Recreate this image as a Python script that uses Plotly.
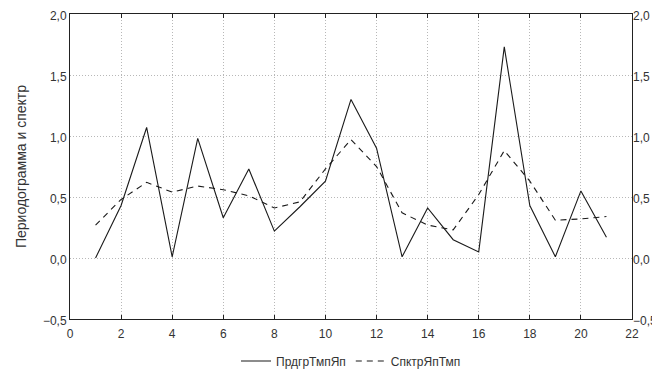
import plotly.graph_objects as go

x_vals = list(range(1, 22))
periodogram = [0.00, 0.43, 1.07, 0.01, 0.98, 0.33, 0.73, 0.22, 0.42, 0.63,
               1.30, 0.90, 0.01, 0.41, 0.15, 0.05, 1.73, 0.43, 0.01, 0.55, 0.17]
spectrum = [0.27, 0.48, 0.62, 0.54, 0.59, 0.56, 0.51, 0.41, 0.46, 0.73,
            0.97, 0.75, 0.37, 0.27, 0.23, 0.52, 0.88, 0.63, 0.31, 0.32, 0.34]
name_per = "ПрдгрТмпЯп"
name_spec = "СпктрЯпТмп"
y_title = "Периодограмма и спектр"
x_ticks = list(range(0, 23, 2))
y_ticks = [-0.5, 0.0, 0.5, 1.0, 1.5, 2.0]

fig = go.Figure()
fig.add_trace(go.Scatter(x=x_vals, y=periodogram, mode="lines", name=name_per,
                         line=dict(color="#1a1a1a", width=1.1)))
fig.add_trace(go.Scatter(x=x_vals, y=spectrum, mode="lines", name=name_spec,
                         line=dict(color="#1a1a1a", width=1.1, dash="6px,5px")))
fig.add_trace(go.Scatter(x=x_vals, y=spectrum, mode="lines", yaxis="y2",
                         showlegend=False, hoverinfo="skip",
                         line=dict(color="rgba(0,0,0,0)", width=0)))

# The page body has an 8px default margin, so the figure is sized to fit the window.
axis_font = dict(family="Liberation Sans, Arial, sans-serif", size=12, color="#333")
grid_color = "#b8b8b8"
grid_dash = "1px,2px"
fig.update_layout(
    width=652, height=362,
    margin=dict(l=62, r=28, t=6, b=51, autoexpand=False),
    paper_bgcolor="white", plot_bgcolor="white",
    separators=", ",
    font=dict(family="Liberation Sans, Arial, sans-serif", size=12, color="#333"),
    xaxis=dict(range=[-0.0001, 22.0001], tickvals=x_ticks, tickformat="d",
               showgrid=True, gridcolor=grid_color, griddash=grid_dash, gridwidth=1,
               showline=True, linecolor="#222", linewidth=1, mirror="ticks",
               ticks="inside", ticklen=4, tickcolor="#222", ticklabeloverflow="allow",
               ticklabelstandoff=4,
               zeroline=False, tickfont=axis_font, automargin=False),
    yaxis=dict(range=[-0.5, 2.0], tickvals=y_ticks, tickformat=".1f",
               showgrid=True, gridcolor=grid_color, griddash=grid_dash, gridwidth=1,
               showline=True, linecolor="#222", linewidth=1, mirror=True,
               ticks="", zeroline=False, tickfont=axis_font, automargin=False,
               ticklabeloverflow="allow", ticklabelshift=2,
               title=dict(text=y_title, font=dict(size=14, color="#333"), standoff=12)),
    yaxis2=dict(range=[-0.5, 2.0], tickvals=y_ticks, tickformat=".1f",
                overlaying="y", side="right", showgrid=False, zeroline=False,
                showline=False, ticks="", tickfont=axis_font, automargin=False,
                ticklabeloverflow="allow", ticklabelshift=2),
    legend=dict(orientation="h", x=0.5, xanchor="center", y=-0.09, yanchor="top",
                font=dict(size=12, color="#333"), itemwidth=30,
                bgcolor="rgba(0,0,0,0)"),
    showlegend=True,
)

fig.write_html("out.html")
